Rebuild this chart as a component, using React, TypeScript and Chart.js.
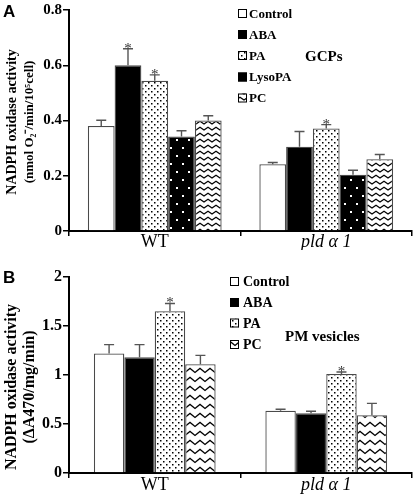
import { useEffect, useRef } from 'react';
import { Chart, registerables } from 'chart.js';
Chart.register(...registerables);

// ---------- data ----------
const categories = ['WT', 'pld α 1'];

// Panel A (GCPs)
const seriesA = ['Control', 'ABA', 'PA', 'LysoPA', 'PC'];
const controlA = [0.38, 0.242];
const abaA = [0.6, 0.305];
const paA = [0.544, 0.371];
const lysoA = [0.342, 0.204];
const pcA = [0.4, 0.26];
const errControlA = [0.021, 0.006];
const errAbaA = [0.06, 0.055];
const errPaA = [0.021, 0.014];
const errLysoA = [0.021, 0.016];
const errPcA = [0.017, 0.017];
const starsAbaA = [true, false];
const starsPaA = [true, true];
const yTicksA = { min: 0, max: 0.8, step: 0.2 };

// Panel B (PM vesicles)
const seriesB = ['Control', 'ABA', 'PA', 'PC'];
const controlB = [1.22, 0.636];
const abaB = [1.18, 0.61];
const paB = [1.65, 1.01];
const pcB = [1.11, 0.59];
const errControlB = [0.09, 0.014];
const errAbaB = [0.13, 0.02];
const errPaB = [0.08, 0.02];
const errPcB = [0.09, 0.12];
const starsPaB = [true, true];
const yTicksB = { min: 0, max: 2, step: 0.5 };

const SERIF = '"Liberation Serif", "Times New Roman", serif';
const SANS = '"Liberation Sans", Arial, sans-serif';

// ---------- patterns ----------
function tile(w: number, h: number, draw: (c: CanvasRenderingContext2D) => void) {
  const cv = document.createElement('canvas');
  cv.width = w;
  cv.height = h;
  const c = cv.getContext('2d')!;
  draw(c);
  return c.createPattern(cv, 'repeat') as CanvasPattern;
}
function dots() {
  return tile(6, 6, (c) => {
    c.fillStyle = '#fff';
    c.fillRect(0, 0, 6, 6);
    c.fillStyle = '#000';
    c.fillRect(1, 1, 1.5, 1.5);
    c.fillRect(4, 4, 1.5, 1.5);
  });
}
function blackDots() {
  return tile(12, 16, (c) => {
    c.fillStyle = '#000';
    c.fillRect(0, 0, 12, 16);
    c.fillStyle = '#fff';
    c.fillRect(2, 3, 2, 2);
    c.fillRect(8, 11, 2, 2);
  });
}
function zigzag(w: number, h: number) {
  return tile(w, h, (c) => {
    c.fillStyle = '#fff';
    c.fillRect(0, 0, w, h);
    c.strokeStyle = '#000';
    c.lineWidth = 1.3;
    c.beginPath();
    c.moveTo(-1, 0.5);
    c.lineTo(w / 2, h / 2 + 1);
    c.lineTo(w + 1, 0.5);
    c.stroke();
  });
}

type Extra = {
  errs: number[][];
  stars: (boolean[] | null)[];
  fills: (string | CanvasPattern)[];
  names: string[];
  legendX: number;
  textX: number;
  rows: number[];
  legendFont: number;
  note: string;
  noteX: number;
  noteY: number;
  letter: string;
  letterY: number;
  title1: string;
  title2: string;
  titleY: number;
  t1Size: number;
  t2Size: number;
};

function makePlugin(ex: Extra) {
  return {
    id: 'extras',
    afterDatasetsDraw(chart: any) {
      const ctx = chart.ctx as CanvasRenderingContext2D;
      const ys = chart.scales.y;
      chart.data.datasets.forEach((ds: any, di: number) => {
        const meta = chart.getDatasetMeta(di);
        meta.data.forEach((bar: any, i: number) => {
          const v = ds.data[i] as number;
          const top = ys.getPixelForValue(v + ex.errs[di][i]);
          ctx.save();
          ctx.strokeStyle = '#555';
          ctx.lineWidth = 1.4;
          ctx.beginPath();
          ctx.moveTo(bar.x, bar.y);
          ctx.lineTo(bar.x, top);
          ctx.moveTo(bar.x - 5, top);
          ctx.lineTo(bar.x + 5, top);
          ctx.stroke();
          const st = ex.stars[di];
          if (st && st[i]) {
            ctx.fillStyle = '#333';
            ctx.font = `15px ${SERIF}`;
            ctx.textAlign = 'center';
            ctx.textBaseline = 'alphabetic';
            ctx.fillText('*', bar.x, top + 4);
          }
          ctx.restore();
        });
      });
    },
    afterDraw(chart: any) {
      const ctx = chart.ctx as CanvasRenderingContext2D;
      ctx.save();
      // legend
      ex.names.forEach((n, i) => {
        const cy = ex.rows[i];
        ctx.fillStyle = ex.fills[i] as any;
        ctx.fillRect(ex.legendX, cy - 4.5, 9, 9);
        ctx.strokeStyle = '#000';
        ctx.lineWidth = 1;
        ctx.strokeRect(ex.legendX + 0.5, cy - 4, 8, 8);
        ctx.fillStyle = '#000';
        ctx.font = `bold ${ex.legendFont}px ${SERIF}`;
        ctx.textAlign = 'left';
        ctx.textBaseline = 'middle';
        ctx.fillText(n, ex.textX, cy + 1);
      });
      // note
      ctx.font = `bold 15px ${SERIF}`;
      ctx.textBaseline = 'middle';
      ctx.fillText(ex.note, ex.noteX, ex.noteY);
      // panel letter
      ctx.font = `bold 17px ${SANS}`;
      ctx.textBaseline = 'alphabetic';
      ctx.fillText(ex.letter, 3, ex.letterY);
      // y title
      ctx.translate(0, ex.titleY);
      ctx.rotate(-Math.PI / 2);
      ctx.textAlign = 'center';
      ctx.textBaseline = 'middle';
      ctx.font = `bold ${ex.t1Size}px ${SERIF}`;
      ctx.fillText(ex.title1, 0, 12);
      ctx.font = `bold ${ex.t2Size}px ${SERIF}`;
      ctx.fillText(ex.title2, 0, 30);
      ctx.restore();
    },
  };
}

function buildConfig(
  names: string[],
  values: number[][],
  fills: (string | CanvasPattern)[],
  yt: { min: number; max: number; step: number },
  pct: number,
  padTop: number,
  xHeight: number,
  tickPad: number,
  tickSize: number,
  plugin: any
) {
  return {
    type: 'bar' as const,
    data: {
      labels: categories,
      datasets: names.map((n, i) => ({
        label: n,
        data: values[i],
        backgroundColor: fills[i],
        borderColor: '#4a4a4a',
        borderWidth: 1.3,
        categoryPercentage: pct,
        barPercentage: 1,
      })),
    },
    options: {
      animation: false as const,
      responsive: false,
      devicePixelRatio: 1,
      layout: { padding: { top: padTop, right: 3, left: 0, bottom: 0 } },
      plugins: { legend: { display: false }, tooltip: { enabled: false } },
      scales: {
        x: {
          grid: { drawOnChartArea: false, drawTicks: true, tickLength: 5, color: '#000', lineWidth: 1.5, offset: true },
          border: { display: true, color: '#000', width: 2 },
          ticks: {
            color: '#000',
            padding: tickPad,
            font: (c: any) => ({ family: SERIF, size: 18, style: c.index === 1 ? 'italic' : 'normal', lineHeight: 1 }),
          },
          afterFit: (s: any) => {
            s.height = xHeight;
          },
        },
        y: {
          min: yt.min,
          max: yt.max,
          ticks: {
            stepSize: yt.step,
            color: '#000',
            padding: 1,
            font: { family: SERIF, size: tickSize, weight: 'bold' as const },
            callback: (v: any) => String(Number(Number(v).toFixed(2))),
          },
          grid: { drawOnChartArea: false, tickLength: 6, color: '#000', lineWidth: 1.5 },
          border: { display: true, color: '#000', width: 2 },
          afterFit: (s: any) => {
            s.width = 69;
          },
        },
      },
    },
    plugins: [plugin],
  };
}

export default function App() {
  const refA = useRef<HTMLCanvasElement>(null);
  const refB = useRef<HTMLCanvasElement>(null);

  useEffect(() => {
    const fillsA = ['#ffffff', '#000000', dots(), blackDots(), zigzag(8, 6)];
    const fillsB = ['#ffffff', '#000000', dots(), zigzag(10, 9)];

    const plugA = makePlugin({
      errs: [errControlA, errAbaA, errPaA, errLysoA, errPcA],
      stars: [null, starsAbaA, starsPaA, null, null],
      fills: fillsA,
      names: seriesA,
      legendX: 238,
      textX: 249,
      rows: [13.5, 34.5, 55.5, 77, 98],
      legendFont: 13,
      note: 'GCPs',
      noteX: 305,
      noteY: 57,
      letter: 'A',
      letterY: 17,
      title1: 'NADPH oxidase activity',
      title2: '(nmol O₂⁻/min/10⁵cell)',
      titleY: 122,
      t1Size: 14,
      t2Size: 13,
    });
    const plugB = makePlugin({
      errs: [errControlB, errAbaB, errPaB, errPcB],
      stars: [null, null, starsPaB, null],
      fills: fillsB,
      names: seriesB,
      legendX: 230,
      textX: 243,
      rows: [31.5, 52.5, 73, 94.5],
      legendFont: 14,
      note: 'PM vesicles',
      noteX: 285,
      noteY: 87,
      letter: 'B',
      letterY: 33,
      title1: 'NADPH oxidase activity',
      title2: '(ΔA470/mg/min)',
      titleY: 137,
      t1Size: 16,
      t2Size: 16,
    });

    const chartA = new Chart(
      refA.current!,
      buildConfig(seriesA, [controlA, abaA, paA, lysoA, pcA], fillsA, yTicksA, 0.78, 8, 19, -3, 15, plugA) as any
    );
    const chartB = new Chart(
      refB.current!,
      buildConfig(seriesB, [controlB, abaB, paB, pcB], fillsB, yTicksB, 0.71, 27, 25, -2, 16, plugB) as any
    );
    return () => {
      chartA.destroy();
      chartB.destroy();
    };
  }, []);

  return (
    <div style={{ position: 'absolute', left: 0, top: 0, width: 415, height: 498, background: '#fff' }}>
      <canvas ref={refA} width={415} height={250} style={{ position: 'absolute', left: 0, top: 0 }} />
      <canvas ref={refB} width={415} height={248} style={{ position: 'absolute', left: 0, top: 250 }} />
    </div>
  );
}
